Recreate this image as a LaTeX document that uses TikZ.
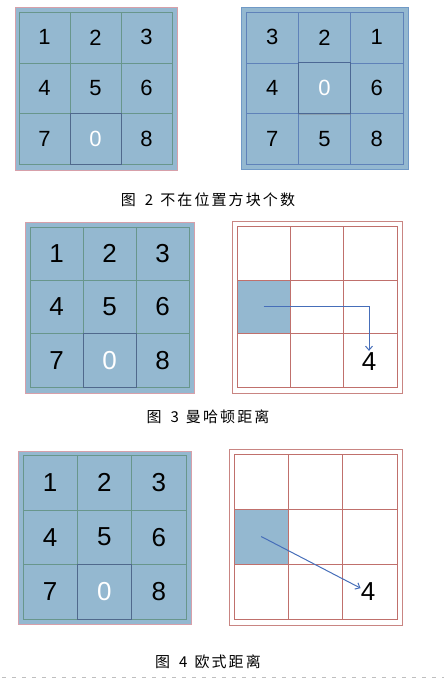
\documentclass[tikz,border=0pt]{standalone}
\usepackage{fontspec}
\setmainfont{Liberation Sans}
\newfontfamily\cjk[LetterSpace=14]{Noto Sans CJK SC}
\usetikzlibrary{positioning, arrows.meta, shadows}

\definecolor{tileblue}{RGB}{148,184,208}
\definecolor{tileline}{RGB}{104,150,140}
\definecolor{frameline}{RGB}{215,160,170}
\definecolor{frameblue}{RGB}{112,153,198}
\definecolor{gridblue}{RGB}{95,130,185}
\definecolor{gridred}{RGB}{192,112,108}
\definecolor{arrowblue}{RGB}{70,110,185}
\definecolor{blankline}{RGB}{80,105,140}

\tikzset{
  tile/.style={draw=tileline, fill=tileblue, inner sep=0pt},
  blank/.style={tile, draw=blankline, line width=0.8pt, text=white,
    drop shadow={shadow xshift=0.6pt, shadow yshift=-1.2pt, opacity=0.4}},
  square/.style={draw=gridred, inner sep=0pt},
  goal/.style={inner sep=0pt, font=\fontsize{26}{26}\selectfont},
  caption/.style={font=\cjk\fontsize{15}{15}\selectfont},
  move/.style={draw=arrowblue, line width=1pt, -{Straight Barb[length=4pt,width=7pt]}}
}

\begin{document}
\begin{tikzpicture}[x=1pt, y=-1pt]
  \useasboundingbox (0,0) rectangle (444,680);

  % figure 2, left: goal state
  \draw[frameline, fill=tileblue] (15,7) rectangle (177,170);
  \begin{scope}[every node/.style={minimum width=51pt, minimum height=50.7pt, font=\fontsize{22}{22}\selectfont}]
    \foreach \n/\c/\r in {1/0/0,2/1/0,3/2/0,4/0/1,5/1/1,6/2/1,7/0/2,8/2/2}
      \node[tile] (a\n) at ({19+51*(\c+0.5)},{12+50.7*(\r+0.5)}) {\n};
    \node[blank] (a0) at ({19+51*1.5},{12+50.7*2.5}) {0};
  \end{scope}

  % figure 2, right: current state
  \draw[frameblue, fill=tileblue] (241,7) rectangle (408,169);
  \begin{scope}[every node/.style={minimum width=52.3pt, minimum height=50.7pt, font=\fontsize{22}{22}\selectfont}]
    \foreach \n/\c/\r in {3/0/0,2/1/0,1/2/0,4/0/1,6/2/1,7/0/2,5/1/2,8/2/2}
      \node[tile, draw=gridblue] (b\n) at ({246+52.3*(\c+0.5)},{12+50.7*(\r+0.5)}) {\n};
    \node[blank, draw=gridblue!80!black, drop shadow={opacity=0}] (b0) at ({246+52.3*1.5},{12+50.7*1.5}) {0};
  \end{scope}

  \node[caption] (cap2) at (208,200) {图\hspace{9pt}2\hspace{7pt}不在位置方块个数};

  % figure 3, left
  \draw[frameline, fill=tileblue] (25,222) rectangle (194,393);
  \begin{scope}[every node/.style={minimum width=53pt, minimum height=53.3pt, font=\fontsize{26}{26}\selectfont}]
    \foreach \n/\c/\r in {1/0/0,2/1/0,3/2/0,4/0/1,5/1/1,6/2/1,7/0/2,8/2/2}
      \node[tile] (c\n) at ({30+53*(\c+0.5)},{227+53.3*(\r+0.5)}) {\n};
    \node[blank] (c0) at ({30+53*1.5},{227+53.3*2.5}) {0};
  \end{scope}

  % figure 3, right: manhattan path
  \draw[gridred!85] (232,221) rectangle (402,393);
  \begin{scope}[every node/.style={minimum width=53.3pt, minimum height=53.7pt}]
    \node[square, fill=tileblue] (m01) at ({237+53.3*0.5},{226+53.7*1.5}) {};
    \foreach \c/\r in {0/0,1/0,2/0,1/1,2/1,0/2,1/2,2/2}
      \node[square] (m\c\r) at ({237+53.3*(\c+0.5)},{226+53.7*(\r+0.5)}) {};
  \end{scope}
  \node[goal] (mgoal) at (369,362) {4};
  \draw[move, shorten >=2pt] (m01.center) -| (mgoal.north);

  \node[caption] (cap3) at (208,417) {图\hspace{9pt}3\hspace{7pt}曼哈顿距离};

  % figure 4, left
  \draw[frameline, fill=tileblue] (18,451) rectangle (191,624);
  \begin{scope}[every node/.style={minimum width=54.3pt, minimum height=54.7pt, font=\fontsize{26}{26}\selectfont}]
    \foreach \n/\c/\r in {1/0/0,2/1/0,3/2/0,4/0/1,5/1/1,6/2/1,7/0/2,8/2/2}
      \node[tile] (d\n) at ({23+54.3*(\c+0.5)},{455+54.7*(\r+0.5)}) {\n};
    \node[blank] (d0) at ({23+54.3*1.5},{455+54.7*2.5}) {0};
  \end{scope}

  % figure 4, right: euclidean line
  \draw[gridred!85] (229,449) rectangle (402,625);
  \begin{scope}[every node/.style={minimum width=54.3pt, minimum height=55pt}]
    \node[square, fill=tileblue] (n01) at ({234+54.3*0.5},{454+55*1.5}) {};
    \foreach \c/\r in {0/0,1/0,2/0,1/1,2/1,0/2,1/2,2/2}
      \node[square] (n\c\r) at ({234+54.3*(\c+0.5)},{454+55*(\r+0.5)}) {};
  \end{scope}
  \node[goal] (ngoal) at (368,592) {4};
  \draw[move] (n01.center) -- (ngoal);

  \node[caption] (cap4) at (208,662) {图\hspace{9pt}4\hspace{7pt}欧式距离};

  \draw[black!25, line width=0.8pt, dash pattern=on 4pt off 6pt, dash phase=-2pt] (0,677) -- (444,677);
\end{tikzpicture}
\end{document}
